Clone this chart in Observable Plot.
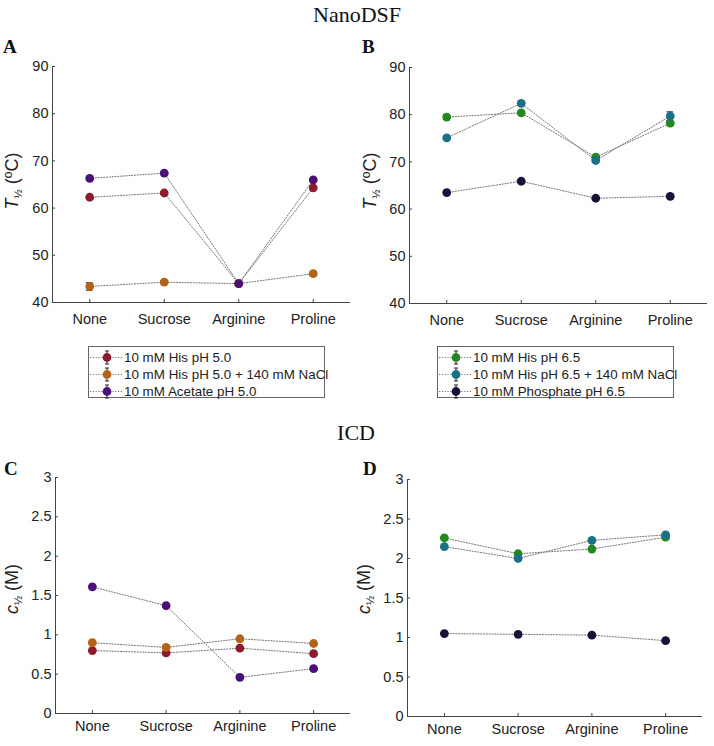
<!DOCTYPE html>
<html>
<head>
<meta charset="utf-8">
<script src="https://cdn.jsdelivr.net/npm/d3@7"></script>
<script src="https://cdn.jsdelivr.net/npm/@observablehq/plot@0.6"></script>
<style>
  html, body { margin: 0; padding: 0; background: #fff; }
  #root { position: relative; width: 714px; height: 746px; background: #fff; overflow: hidden;
          font-family: "Liberation Sans", Arial, sans-serif; color: #222; }
  .abs { position: absolute; }
  .title { font-family: "Liberation Serif", "Times New Roman", serif; font-size: 22px; color: #111; transform: translateX(-50%); white-space: nowrap; }
  .letter { font-family: "Liberation Serif", "Times New Roman", serif; font-weight: bold; font-size: 19px; color: #111; }
  .ylab { font-size: 18px; white-space: nowrap; transform: translate(-50%, -50%) rotate(-90deg); color: #222; }
  .ylab sub { font-size: 11px; vertical-align: -4px; }
  .legend { box-sizing: border-box; border: 1px solid #666; background: #fff; font-size: 13.4px; color: #222; padding-top: 2px; }
  .legend .row { display: flex; align-items: center; height: 17px; white-space: nowrap; }
  .legend svg { flex: none; margin-left: 1px; margin-right: 2px; }
</style>
</head>
<body>
<div id="root"></div>
<script>
// ---------- data ----------
const categories = ["None", "Sucrose", "Arginine", "Proline"];

const seriesAC = ["10 mM His pH 5.0", "10 mM His pH 5.0 + 140 mM NaCl", "10 mM Acetate pH 5.0"];
const seriesBD = ["10 mM His pH 6.5", "10 mM His pH 6.5 + 140 mM NaCl", "10 mM Phosphate pH 6.5"];
const colorsAC = ["#8e1b2d", "#b4621a", "#4a1078"];
const colorsBD = ["#23891f", "#1b6f86", "#15133a"];

// Panel A: T1/2 (°C)
const aHis50     = [62.3, 63.2, 44.0, 64.3];
const aHis50NaCl = [43.4, 44.3, 44.0, 46.1];
const aAcetate   = [66.3, 67.4, 44.0, 66.0];
const aErr = [[0.3, 0.3, 0.3, 0.5], [0.8, 0.3, 0.3, 0.3], [0.3, 0.3, 0.3, 0.3]];

// Panel B: T1/2 (°C)
const bHis65     = [79.5, 80.4, 71.0, 78.2];
const bHis65NaCl = [75.1, 82.4, 70.3, 79.7];
const bPhosphate = [63.5, 65.9, 62.3, 62.7];
const bErr = [[0.5, 0.3, 0.3, 0.3], [0.3, 0.3, 0.3, 0.9], [0.3, 0.3, 0.3, 0.3]];

// Panel C: c1/2 (M)
const cHis50     = [0.80, 0.77, 0.83, 0.76];
const cHis50NaCl = [0.90, 0.84, 0.95, 0.89];
const cAcetate   = [1.61, 1.37, 0.46, 0.57];
const cErr = [[0.01, 0.01, 0.01, 0.01], [0.01, 0.01, 0.01, 0.01], [0.01, 0.01, 0.01, 0.01]];

// Panel D: c1/2 (M)
const dHis65     = [2.26, 2.06, 2.12, 2.27];
const dHis65NaCl = [2.15, 2.00, 2.23, 2.30];
const dPhosphate = [1.05, 1.04, 1.03, 0.96];
const dErr = [[0.01, 0.01, 0.01, 0.01], [0.01, 0.01, 0.01, 0.01], [0.01, 0.01, 0.01, 0.01]];

const tTicks = [40, 50, 60, 70, 80, 90];
const cTicks = [0, 0.5, 1, 1.5, 2, 2.5, 3];

// ---------- layout ----------
const root = document.getElementById("root");
function addDiv(cls, html, left, top) {
  const d = document.createElement("div");
  d.className = "abs " + cls;
  d.innerHTML = html;
  d.style.left = left + "px";
  d.style.top = top + "px";
  root.appendChild(d);
  return d;
}

function panel(cfg) {
  const data = [];
  cfg.series.forEach((s, si) => categories.forEach((c, i) =>
    data.push({series: s, i, v: cfg.values[si][i], e: cfg.errors[si][i]})));
  const capW = 0.045;
  const svg = Plot.plot({
    width: cfg.w, height: cfg.h,
    marginLeft: cfg.ml, marginRight: cfg.mr, marginTop: cfg.mt, marginBottom: cfg.mb,
    style: {fontFamily: "'Liberation Sans', Arial, sans-serif", fontSize: "14.5px", color: "#222", background: "transparent", overflow: "visible"},
    x: {type: "linear", domain: [-0.5, 3.5], axis: null},
    y: {domain: [cfg.ticks[0], cfg.ticks[cfg.ticks.length - 1]], axis: null},
    color: {domain: cfg.series, range: cfg.colors},
    marks: [
      Plot.ruleX([-0.5], {stroke: "#444", strokeWidth: 1}),
      Plot.ruleY([cfg.ticks[0]], {stroke: "#444", strokeWidth: 1}),
      Plot.axisX(categories.map((c, i) => i), {tickFormat: i => categories[i], tickSize: -3, tickPadding: cfg.xpad, stroke: "#444", label: null}),
      Plot.axisY(cfg.ticks, {tickSize: -3, tickPadding: 7, tickFormat: d => String(d), stroke: "#444", label: null}),
      Plot.line(data, {x: "i", y: "v", z: "series", stroke: "#777", strokeWidth: 1, strokeDasharray: "1.2,1.6"}),
      Plot.ruleX(data, {x: "i", y1: d => d.v - d.e, y2: d => d.v + d.e, stroke: "#222", strokeWidth: 1}),
      Plot.ruleY(data, {y: d => d.v + d.e, x1: d => d.i - capW, x2: d => d.i + capW, stroke: "#222", strokeWidth: 1}),
      Plot.ruleY(data, {y: d => d.v - d.e, x1: d => d.i - capW, x2: d => d.i + capW, stroke: "#222", strokeWidth: 1}),
      Plot.dot(data, {x: "i", y: "v", fill: "series", r: 4.4, stroke: "none"})
    ]
  });
  svg.style.position = "absolute";
  svg.style.left = cfg.left + "px";
  svg.style.top = cfg.top + "px";
  root.appendChild(svg);
}

panel({left: 0, top: 0, w: 357, h: 340, ml: 52, mr: 7, mt: 66, mb: 38, xpad: 14,
  series: seriesAC, colors: colorsAC, values: [aHis50, aHis50NaCl, aAcetate], errors: aErr, ticks: tTicks});
panel({left: 357, top: 0, w: 357, h: 340, ml: 52, mr: 7, mt: 67, mb: 37, xpad: 14,
  series: seriesBD, colors: colorsBD, values: [bHis65, bHis65NaCl, bPhosphate], errors: bErr, ticks: tTicks});
panel({left: 0, top: 420, w: 357, h: 326, ml: 55, mr: 7, mt: 57, mb: 33, xpad: 10,
  series: seriesAC, colors: colorsAC, values: [cHis50, cHis50NaCl, cAcetate], errors: cErr, ticks: cTicks});
panel({left: 357, top: 420, w: 357, h: 326, ml: 50, mr: 12, mt: 59, mb: 30, xpad: 10,
  series: seriesBD, colors: colorsBD, values: [dHis65, dHis65NaCl, dPhosphate], errors: dErr, ticks: cTicks});

// titles & letters
addDiv("title", "NanoDSF", 357, 2);
addDiv("title", "ICD", 356, 420);
addDiv("letter", "A", 3, 36);
addDiv("letter", "B", 362, 36);
addDiv("letter", "C", 4, 458);
addDiv("letter", "D", 363, 458);

// y labels
const tLab = "<i>T</i><sub>½</sub> (ºC)";
const cLab = "<i>c</i><sub>½</sub> (M)";
addDiv("ylab", tLab, 13, 181);
addDiv("ylab", tLab, 371, 181);
addDiv("ylab", cLab, 13, 589);
addDiv("ylab", cLab, 365, 589);

// legends
function legend(series, colors, left, top) {
  const d = addDiv("legend", "", left, top);
  d.style.width = "237px";
  d.style.height = "52px";
  series.forEach((s, i) => {
    const row = document.createElement("div");
    row.className = "row";
    row.innerHTML =
      `<svg width="32" height="17" viewBox="0 0 32 17">
         <line x1="0" x2="32" y1="8.5" y2="8.5" stroke="#777" stroke-width="1" stroke-dasharray="1.2,1.6"/>
         <line x1="17" x2="17" y1="2" y2="15" stroke="#222" stroke-width="1"/>
         <line x1="15" x2="19" y1="2" y2="2" stroke="#222" stroke-width="1"/>
         <line x1="15" x2="19" y1="15" y2="15" stroke="#222" stroke-width="1"/>
         <circle cx="17" cy="8.5" r="4.4" fill="${colors[i]}"/>
       </svg><span>${s}</span>`;
    d.appendChild(row);
  });
}
legend(seriesAC, colorsAC, 88, 346);
legend(seriesBD, colorsBD, 437, 346);
</script>
</body>
</html>
